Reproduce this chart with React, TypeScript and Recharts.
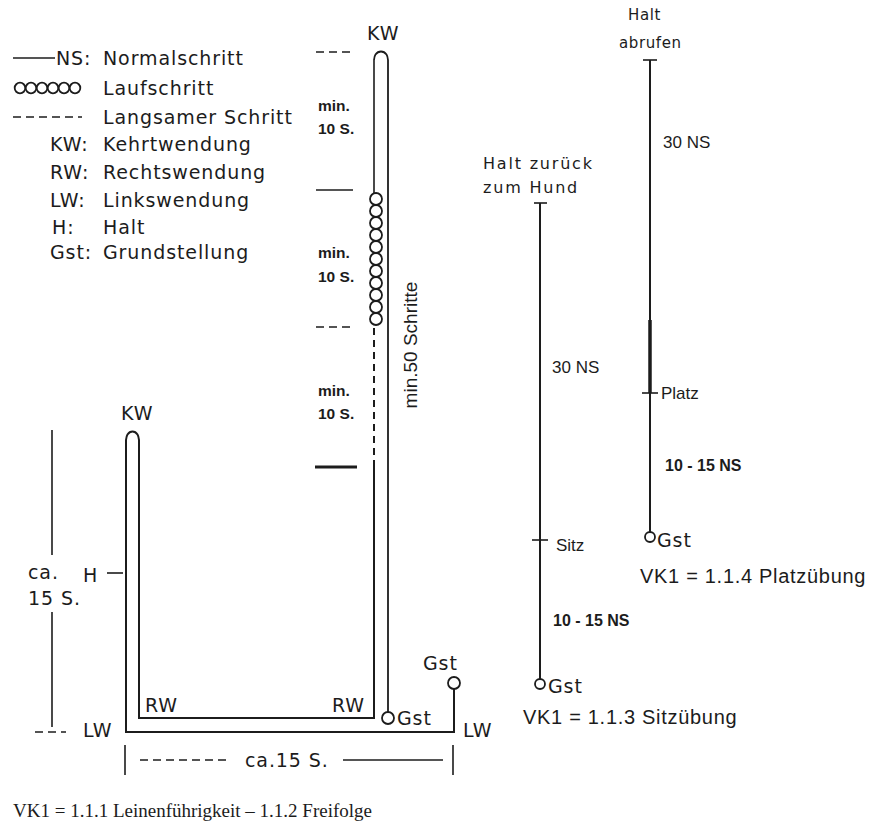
import { ComposedChart, Line, Scatter, XAxis, YAxis } from "recharts";

// picture units: x to the right, y downward (the y axis is reversed)
const W = 874;
const H = 827;

// main route of 1.1.1 / 1.1.2
const routeStart = [
  { x: 454, y: 689 },
  { x: 454, y: 732 },
  { x: 126, y: 732 },
  { x: 126, y: 440 },
];
const routeBack = [
  { x: 139, y: 440 },
  { x: 139, y: 718 },
  { x: 374, y: 718 },
  { x: 374, y: 467 },
];
const slowWalk = [
  { x: 374, y: 467 },
  { x: 374, y: 327 },
];
const normalUp = [
  { x: 374, y: 193 },
  { x: 374, y: 60 },
];
const routeEnd = [
  { x: 388, y: 60 },
  { x: 388, y: 712 },
];
const turnLeft = [
  { x: 126, y: 440 },
  { x: 127.5, y: 434.5 },
  { x: 132.5, y: 431.5 },
  { x: 137.5, y: 434.5 },
  { x: 139, y: 440 },
];
const turnTop = [
  { x: 374, y: 60 },
  { x: 375.5, y: 54.5 },
  { x: 381, y: 51.5 },
  { x: 386.5, y: 54.5 },
  { x: 388, y: 60 },
];
const runCircles = [199, 211, 223, 235, 247, 259, 271, 283, 295, 307, 319].map((y) => ({ x: 376, y }));

// 1.1.3 and 1.1.4 lines
const sitzLine = [
  { x: 540, y: 203 },
  { x: 540, y: 679 },
];
const platzLine = [
  { x: 650, y: 60 },
  { x: 650, y: 532 },
];
const platzHeavy = [
  { x: 650, y: 320 },
  { x: 650, y: 393 },
];

// short strokes: ticks, dimension lines, legend samples
const thinSegments = [
  [{ x: 534, y: 203 }, { x: 547, y: 203 }],
  [{ x: 532, y: 540 }, { x: 548, y: 540 }],
  [{ x: 643, y: 60 }, { x: 657, y: 60 }],
  [{ x: 642, y: 393 }, { x: 658, y: 393 }],
  [{ x: 316, y: 190 }, { x: 353, y: 190 }],
  [{ x: 52, y: 430 }, { x: 52, y: 555 }],
  [{ x: 52, y: 612 }, { x: 52, y: 727 }],
  [{ x: 107, y: 573 }, { x: 123, y: 573 }],
  [{ x: 125, y: 745 }, { x: 125, y: 775 }],
  [{ x: 453, y: 745 }, { x: 453, y: 775 }],
  [{ x: 343, y: 760 }, { x: 443, y: 760 }],
  [{ x: 13, y: 58 }, { x: 55, y: 58 }],
];
const dashedSegments = [
  [{ x: 316, y: 52 }, { x: 355, y: 52 }],
  [{ x: 316, y: 327 }, { x: 354, y: 327 }],
  [{ x: 35, y: 732 }, { x: 66, y: 732 }],
  [{ x: 140, y: 760 }, { x: 230, y: 760 }],
  [{ x: 13, y: 117 }, { x: 82, y: 117 }],
];
const thickSegments = [[{ x: 315, y: 467 }, { x: 357, y: 467 }]];

const gstBig = [
  { x: 388, y: 718 },
  { x: 454, y: 683 },
];
const gstSmall = [
  { x: 540, y: 684 },
  { x: 650, y: 537 },
];
const legendCircles = [20, 31, 42, 53, 64, 75].map((x) => ({ x, y: 88 }));

// labels
const legendLabels = [
  { x: 56, y: 58, t: "NS:" },
  { x: 103, y: 58, t: "Normalschritt" },
  { x: 103, y: 88, t: "Laufschritt" },
  { x: 103, y: 117, t: "Langsamer Schritt" },
  { x: 50, y: 144, t: "KW:" },
  { x: 103, y: 144, t: "Kehrtwendung" },
  { x: 50, y: 172, t: "RW:" },
  { x: 103, y: 172, t: "Rechtswendung" },
  { x: 50, y: 200, t: "LW:" },
  { x: 103, y: 200, t: "Linkswendung" },
  { x: 52, y: 227, t: "H:" },
  { x: 103, y: 227, t: "Halt" },
  { x: 50, y: 252, t: "Gst:" },
  { x: 103, y: 252, t: "Grundstellung" },
  { x: 367, y: 33, t: "KW" },
  { x: 121, y: 413, t: "KW" },
  { x: 83, y: 575, t: "H" },
  { x: 28, y: 572, t: "ca." },
  { x: 28, y: 598, t: "15 S." },
  { x: 83, y: 730, t: "LW" },
  { x: 145, y: 705, t: "RW" },
  { x: 332, y: 705, t: "RW" },
  { x: 397, y: 718, t: "Gst" },
  { x: 423, y: 663, t: "Gst" },
  { x: 463, y: 730, t: "LW" },
  { x: 245, y: 760, t: "ca.15 S." },
  { x: 548, y: 686, t: "Gst" },
  { x: 657, y: 540, t: "Gst" },
];
const hundLabels = [
  { x: 483, y: 163, t: "Halt zurück" },
  { x: 483, y: 187, t: "zum Hund" },
];
const abrufLabels = [
  { x: 628, y: 15, t: "Halt" },
  { x: 619, y: 43, t: "abrufen" },
];
const timeLabels = [
  { x: 318, y: 105, t: "min." },
  { x: 318, y: 128, t: "10 S." },
  { x: 318, y: 252, t: "min." },
  { x: 318, y: 276, t: "10 S." },
  { x: 318, y: 390, t: "min." },
  { x: 318, y: 413, t: "10 S." },
];
const stepLabels = [
  { x: 552, y: 367, t: "30 NS" },
  { x: 556, y: 545, t: "Sitz" },
  { x: 663, y: 142, t: "30 NS" },
  { x: 661, y: 393, t: "Platz" },
];
const rangeLabels = [
  { x: 553, y: 620, t: "10 - 15 NS" },
  { x: 665, y: 465, t: "10 - 15 NS" },
];
const titleLabels = [
  { x: 523, y: 717, t: "VK1 = 1.1.3 Sitzübung" },
  { x: 640, y: 576, t: "VK1 = 1.1.4 Platzübung" },
];
const sideLabels = [{ x: 410, y: 345, t: "min.50 Schritte" }];
const captionLabels = [{ x: 13, y: 810, t: "VK1 = 1.1.1 Leinenführigkeit – 1.1.2 Freifolge" }];

const INK = "#1c1c1c";
const DIN = "'DejaVu Sans', sans-serif";
const ARIAL = "'Liberation Sans', Arial, sans-serif";

function textShape(style: Record<string, any>, rotate = false) {
  return (p: any) => (
    <text
      x={p.cx}
      y={p.cy}
      dominantBaseline="central"
      fill={INK}
      transform={rotate ? `rotate(-90 ${p.cx} ${p.cy})` : undefined}
      textAnchor={rotate ? "middle" : "start"}
      style={style}
    >
      {p.payload.t}
    </text>
  );
}

function ring(r: number, w: number) {
  return (p: any) => <circle cx={p.cx} cy={p.cy} r={r} fill="#fff" stroke={INK} strokeWidth={w} />;
}

function seg(data: { x: number; y: number }[], key: string, width: number, dash?: string, type: any = "linear") {
  return (
    <Line
      key={key}
      data={data}
      dataKey="y"
      type={type}
      stroke={INK}
      strokeWidth={width}
      strokeDasharray={dash}
      dot={false}
      activeDot={false}
      isAnimationActive={false}
    />
  );
}

export default function App() {
  return (
    <div style={{ position: "absolute", left: 0, top: 0, background: "#fff" }}>
      <ComposedChart width={W} height={H} margin={{ top: 0, right: 0, bottom: 0, left: 0 }}>
        <XAxis type="number" dataKey="x" domain={[0, W]} hide />
        <YAxis type="number" domain={[0, H]} reversed hide />

        {seg(routeStart, "rs", 2)}
        {seg(routeBack, "rb", 2)}
        {seg(slowWalk, "sw", 2, "7 5")}
        {seg(normalUp, "nu", 1.6)}
        {seg(routeEnd, "re", 1.8)}
        {seg(turnLeft, "tl", 2, undefined, "natural")}
        {seg(turnTop, "tt", 1.8, undefined, "natural")}
        {seg(sitzLine, "sl", 2)}
        {seg(platzLine, "pl", 2)}
        {seg(platzHeavy, "ph", 3.5)}
        {thinSegments.map((d, i) => seg(d, `t${i}`, 1.6))}
        {dashedSegments.map((d, i) => seg(d, `d${i}`, 1.6, "8 5"))}
        {thickSegments.map((d, i) => seg(d, `k${i}`, 3))}

        <Scatter data={runCircles} dataKey="y" shape={ring(6, 1.8)} isAnimationActive={false} />
        <Scatter data={legendCircles} dataKey="y" shape={ring(5.3, 1.8)} isAnimationActive={false} />
        <Scatter data={gstBig} dataKey="y" shape={ring(6, 1.8)} isAnimationActive={false} />
        <Scatter data={gstSmall} dataKey="y" shape={ring(5, 1.8)} isAnimationActive={false} />

        <Scatter
          data={legendLabels}
          dataKey="y"
          shape={textShape({ fontFamily: DIN, fontSize: 19, letterSpacing: 0.9 })}
          isAnimationActive={false}
        />
        <Scatter
          data={hundLabels}
          dataKey="y"
          shape={textShape({ fontFamily: DIN, fontSize: 16, letterSpacing: 1.8 })}
          isAnimationActive={false}
        />
        <Scatter
          data={abrufLabels}
          dataKey="y"
          shape={textShape({ fontFamily: DIN, fontSize: 15, letterSpacing: 0.6 })}
          isAnimationActive={false}
        />
        <Scatter
          data={timeLabels}
          dataKey="y"
          shape={textShape({ fontFamily: ARIAL, fontSize: 15.5, fontWeight: "bold" })}
          isAnimationActive={false}
        />
        <Scatter
          data={stepLabels}
          dataKey="y"
          shape={textShape({ fontFamily: ARIAL, fontSize: 17 })}
          isAnimationActive={false}
        />
        <Scatter
          data={rangeLabels}
          dataKey="y"
          shape={textShape({ fontFamily: ARIAL, fontSize: 16, fontWeight: "bold" })}
          isAnimationActive={false}
        />
        <Scatter
          data={titleLabels}
          dataKey="y"
          shape={textShape({ fontFamily: ARIAL, fontSize: 20, letterSpacing: 0.7 })}
          isAnimationActive={false}
        />
        <Scatter
          data={sideLabels}
          dataKey="y"
          shape={textShape({ fontFamily: ARIAL, fontSize: 19 }, true)}
          isAnimationActive={false}
        />
        <Scatter
          data={captionLabels}
          dataKey="y"
          shape={textShape({ fontFamily: "'Liberation Serif', 'Times New Roman', serif", fontSize: 19 })}
          isAnimationActive={false}
        />
      </ComposedChart>
    </div>
  );
}
